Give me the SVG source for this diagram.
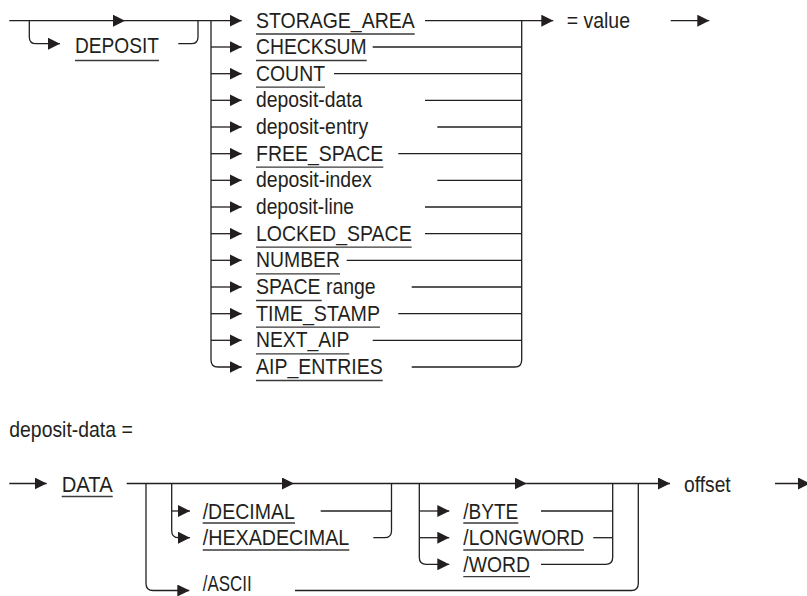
<svg xmlns="http://www.w3.org/2000/svg" width="807" height="596" viewBox="0 0 807 596">
<style>
.ln{fill:none;stroke:#231f20;stroke-width:1.3}
.ul{stroke:#3a3a3a;stroke-width:1.3}
.t{font-family:"Liberation Sans",Arial,sans-serif;font-size:22px;fill:#231f20}
</style>
<defs>
<marker id="ah" markerUnits="userSpaceOnUse" markerWidth="12" markerHeight="12" viewBox="0 0 12 12" refX="12" refY="6" orient="auto">
<path d="M0,0 L12,6 L0,12 Z" fill="#231f20"/>
</marker>
</defs>

<g id="connectors">
<!-- top diagram -->
<path class="ln" d="M9.3,20.7 H125" marker-end="url(#ah)"/>
<path class="ln" d="M125,20.7 H241.7" marker-end="url(#ah)"/>
<path class="ln" d="M29.3,20.7 V37 Q29.3,43.7 36,43.7 H60" marker-end="url(#ah)"/>
<path class="ln" d="M178.3,43.7 H191 Q198,43.7 198,37 V20.7"/>
<path class="ln" d="M211,20.7 V360 Q211,367 218,367 H241.7" marker-end="url(#ah)"/>
<path class="ln" d="M211,47 H241.7" marker-end="url(#ah)"/>
<path class="ln" d="M211,73.7 H241.7" marker-end="url(#ah)"/>
<path class="ln" d="M211,100.3 H241.7" marker-end="url(#ah)"/>
<path class="ln" d="M211,127 H241.7" marker-end="url(#ah)"/>
<path class="ln" d="M211,153.7 H241.7" marker-end="url(#ah)"/>
<path class="ln" d="M211,180.3 H241.7" marker-end="url(#ah)"/>
<path class="ln" d="M211,207 H241.7" marker-end="url(#ah)"/>
<path class="ln" d="M211,233.7 H241.7" marker-end="url(#ah)"/>
<path class="ln" d="M211,260.3 H241.7" marker-end="url(#ah)"/>
<path class="ln" d="M211,287 H241.7" marker-end="url(#ah)"/>
<path class="ln" d="M211,313.7 H241.7" marker-end="url(#ah)"/>
<path class="ln" d="M211,340.3 H241.7" marker-end="url(#ah)"/>
<path class="ln" d="M425,20.7 H553.3" marker-end="url(#ah)"/>
<path class="ln" d="M372.7,47 H521.7"/>
<path class="ln" d="M334,73.7 H521.7"/>
<path class="ln" d="M425,100.3 H521.7"/>
<path class="ln" d="M437.3,127 H521.7"/>
<path class="ln" d="M398.3,153.7 H521.7"/>
<path class="ln" d="M437.3,180.3 H521.7"/>
<path class="ln" d="M425,207 H521.7"/>
<path class="ln" d="M425,233.7 H521.7"/>
<path class="ln" d="M346.7,260.3 H521.7"/>
<path class="ln" d="M411.7,287 H521.7"/>
<path class="ln" d="M398.3,313.7 H521.7"/>
<path class="ln" d="M372.7,340.3 H521.7"/>
<path class="ln" d="M411.7,367 H514.7 Q521.7,367 521.7,360 V20.7"/>
<path class="ln" d="M670.7,20.7 H709.3" marker-end="url(#ah)"/>

<!-- bottom diagram -->
<path class="ln" d="M9.3,483.5 H46.7" marker-end="url(#ah)"/>
<path class="ln" d="M126.7,483.5 H294" marker-end="url(#ah)"/>
<path class="ln" d="M294,483.5 H526.7" marker-end="url(#ah)"/>
<path class="ln" d="M526.7,483.5 H670" marker-end="url(#ah)"/>
<path class="ln" d="M146,483.5 V583.5 Q146,590.5 153,590.5 H189.3" marker-end="url(#ah)"/>
<path class="ln" d="M295,590.5 H631.3 Q638.3,590.5 638.3,583.5 V483.5"/>
<path class="ln" d="M171.7,483.5 V530.7 Q171.7,537.7 178.7,537.7 H190" marker-end="url(#ah)"/>
<path class="ln" d="M171.7,511 H190" marker-end="url(#ah)"/>
<path class="ln" d="M320.7,511 H391.5"/>
<path class="ln" d="M373.3,537.7 H384.5 Q391.5,537.7 391.5,530.7 V483.5"/>
<path class="ln" d="M419.3,483.5 V557.3 Q419.3,564.3 426.3,564.3 H449.3" marker-end="url(#ah)"/>
<path class="ln" d="M419.3,511 H449.3" marker-end="url(#ah)"/>
<path class="ln" d="M419.3,537.7 H449.3" marker-end="url(#ah)"/>
<path class="ln" d="M541,511 H612.7"/>
<path class="ln" d="M593.3,537.7 H612.7"/>
<path class="ln" d="M541,564.3 H605.7 Q612.7,564.3 612.7,557.3 V483.5"/>
<path class="ln" d="M775,483.5 H810" marker-end="url(#ah)"/>
</g>

<!-- top diagram nodes -->
<g id="n-deposit"><text class="t" x="75" y="53.3" textLength="84" lengthAdjust="spacingAndGlyphs">DEPOSIT</text><line class="ul" x1="75" y1="60.5" x2="159" y2="60.5"/></g>
<g id="n-storage-area"><text class="t" x="256" y="27.7" textLength="158.7" lengthAdjust="spacingAndGlyphs">STORAGE_AREA</text><line class="ul" x1="256" y1="34" x2="414.7" y2="34"/></g>
<g id="n-checksum"><text class="t" x="256" y="54" textLength="110.7" lengthAdjust="spacingAndGlyphs">CHECKSUM</text><line class="ul" x1="256" y1="60.5" x2="366.7" y2="60.5"/></g>
<g id="n-count"><text class="t" x="256" y="80.7" textLength="69" lengthAdjust="spacingAndGlyphs">COUNT</text><line class="ul" x1="256" y1="87.2" x2="325" y2="87.2"/></g>
<g id="n-deposit-data"><text class="t" x="256" y="107.3" textLength="106.3" lengthAdjust="spacingAndGlyphs">deposit-data</text></g>
<g id="n-deposit-entry"><text class="t" x="256" y="134" textLength="112.3" lengthAdjust="spacingAndGlyphs">deposit-entry</text></g>
<g id="n-free-space"><text class="t" x="256" y="160.7" textLength="127.3" lengthAdjust="spacingAndGlyphs">FREE_SPACE</text><line class="ul" x1="256" y1="167.2" x2="383.3" y2="167.2"/></g>
<g id="n-deposit-index"><text class="t" x="256" y="187.3" textLength="115.7" lengthAdjust="spacingAndGlyphs">deposit-index</text></g>
<g id="n-deposit-line"><text class="t" x="256" y="214" textLength="98" lengthAdjust="spacingAndGlyphs">deposit-line</text></g>
<g id="n-locked-space"><text class="t" x="256" y="240.7" textLength="155.7" lengthAdjust="spacingAndGlyphs">LOCKED_SPACE</text><line class="ul" x1="256" y1="247.2" x2="411.7" y2="247.2"/></g>
<g id="n-number"><text class="t" x="256" y="267.3" textLength="84" lengthAdjust="spacingAndGlyphs">NUMBER</text><line class="ul" x1="256" y1="273.8" x2="340" y2="273.8"/></g>
<g id="n-space-range"><text class="t" x="256" y="294" textLength="119.7" lengthAdjust="spacingAndGlyphs">SPACE range</text><line class="ul" x1="256" y1="300.5" x2="321.7" y2="300.5"/></g>
<g id="n-time-stamp"><text class="t" x="256" y="320.7" textLength="124" lengthAdjust="spacingAndGlyphs">TIME_STAMP</text><line class="ul" x1="256" y1="327.2" x2="380" y2="327.2"/></g>
<g id="n-next-aip"><text class="t" x="256" y="347.3" textLength="93.3" lengthAdjust="spacingAndGlyphs">NEXT_AIP</text><line class="ul" x1="256" y1="353.8" x2="349.3" y2="353.8"/></g>
<g id="n-aip-entries"><text class="t" x="256" y="374" textLength="126.7" lengthAdjust="spacingAndGlyphs">AIP_ENTRIES</text><line class="ul" x1="256" y1="380.5" x2="382.7" y2="380.5"/></g>
<g id="n-value"><text class="t" x="566.7" y="27.7" textLength="63.3" lengthAdjust="spacingAndGlyphs">= value</text></g>

<!-- bottom diagram -->
<g id="n-title"><text class="t" x="9.3" y="437.3" textLength="123.4" lengthAdjust="spacingAndGlyphs">deposit-data =</text></g>
<g id="n-data"><text class="t" x="61.7" y="491.5" textLength="51" lengthAdjust="spacingAndGlyphs">DATA</text><line class="ul" x1="61.7" y1="496.5" x2="112.7" y2="496.5"/></g>
<g id="n-decimal"><text class="t" x="202.7" y="518.5" textLength="92.3" lengthAdjust="spacingAndGlyphs">/DECIMAL</text><line class="ul" x1="202.7" y1="523" x2="295" y2="523"/></g>
<g id="n-hexadecimal"><text class="t" x="202.7" y="545.3" textLength="146.6" lengthAdjust="spacingAndGlyphs">/HEXADECIMAL</text><line class="ul" x1="202.7" y1="550" x2="349.3" y2="550"/></g>
<g id="n-ascii"><text class="t" x="202.7" y="591" textLength="49" lengthAdjust="spacingAndGlyphs">/ASCII</text></g>
<g id="n-byte"><text class="t" x="463.3" y="518.5" textLength="55" lengthAdjust="spacingAndGlyphs">/BYTE</text><line class="ul" x1="463.3" y1="523" x2="518.3" y2="523"/></g>
<g id="n-longword"><text class="t" x="463.3" y="545.3" textLength="120.7" lengthAdjust="spacingAndGlyphs">/LONGWORD</text><line class="ul" x1="463.3" y1="550" x2="584" y2="550"/></g>
<g id="n-word"><text class="t" x="463.3" y="572" textLength="66.7" lengthAdjust="spacingAndGlyphs">/WORD</text><line class="ul" x1="463.3" y1="576.7" x2="530" y2="576.7"/></g>
<g id="n-offset"><text class="t" x="684" y="491.5" textLength="46.7" lengthAdjust="spacingAndGlyphs">offset</text></g>
</svg>
